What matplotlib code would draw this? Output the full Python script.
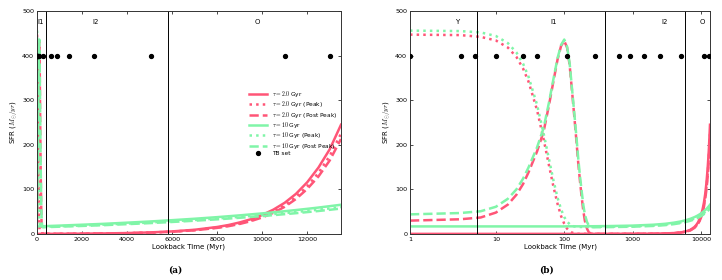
import numpy as np
import matplotlib
matplotlib.use("Agg")
import matplotlib.pyplot as plt
from matplotlib.ticker import NullLocator

plt.rcParams['font.family'] = ['DejaVu Sans']
plt.rcParams['mathtext.fontset'] = 'cm'

t = [1, 3, 6, 10, 15, 20, 25, 30, 40, 50, 60, 70, 80, 90, 100, 110, 120, 130,
     140, 150, 160, 170, 180, 190, 200, 215, 230, 260, 300, 500, 1000, 2000,
     3000, 4000, 5000, 6000, 7000, 8000, 8500, 9000, 9500, 10000, 10500, 11000,
     11500, 12000, 12500, 13000, 13500]

# tau = 2.0 Gyr
red_solid = [0.29, 0.29, 0.29, 0.29, 0.29, 0.29, 0.29, 0.29, 0.30, 0.30, 0.30, 0.30,
             0.30, 0.30, 0.30, 0.30, 0.30, 0.31, 0.31, 0.31, 0.31, 0.31, 0.31, 0.31,
             0.32, 0.32, 0.32, 0.33, 0.33, 0.37, 0.47, 0.78, 1.3, 2.1, 3.5, 5.8, 9.5,
             15.7, 20.1, 25.9, 33.2, 42.6, 54.7, 70, 90, 116, 149, 190, 245]
red_peak = [447, 446, 442, 434, 418, 397, 371, 342, 278, 212, 153, 104, 67, 40, 23,
            12, 6.4, 3.1, 1.5, 0.8, 0.4, 0.3, 0.3, 0.3, 0.3, 0.3, 0.3, 0.3, 0.3,
            0.34, 0.43, 0.72, 1.2, 1.9, 3.2, 5.3, 8.7, 14.4, 18.5, 23.8, 30.5, 39.2,
            50.3, 64, 83, 107, 137, 175, 225]
red_post = [30, 33, 37, 48, 66, 88, 112, 138, 185, 230, 290, 345, 392, 422, 433,
            418, 378, 320, 265, 212, 160, 118, 82, 52, 30, 12, 3, 0.4, 0.29, 0.32,
            0.41, 0.68, 1.1, 1.8, 3.0, 5.0, 8.3, 13.7, 17.5, 22.5, 28.9, 37.1, 47.6,
            61, 78.5, 101, 129, 165, 213]

# tau = 10 Gyr
green_solid = [17.0, 17.0, 17.0, 17.0, 17.0, 17.0, 17.0, 17.0, 17.0, 17.0, 17.0,
               17.0, 17.0, 17.0, 17.0, 17.2, 17.2, 17.2, 17.2, 17.2, 17.2, 17.2,
               17.2, 17.2, 17.2, 17.4, 17.4, 17.4, 17.5, 17.9, 18.8, 20.8, 22.9,
               25.4, 28.0, 31.0, 34.2, 37.8, 39.8, 41.8, 44.0, 46.2, 48.6, 51.1,
               53.7, 56.4, 59.3, 62.4, 65.6]
green_peak = [456, 455, 452, 444, 428, 407, 382, 353, 290, 225, 167, 118, 81, 55, 38,
              28, 22, 18.5, 17, 16.3, 16, 15.8, 15.8, 15.8, 15.8, 15.9, 15.9, 16.0,
              16.0, 16.5, 17.3, 19.1, 21.1, 23.4, 25.8, 28.5, 31.5, 34.8, 36.6, 38.5,
              40.5, 42.5, 44.7, 47.0, 49.4, 51.9, 54.6, 57.4, 60.4]
green_post = [44, 47, 51, 61, 79, 100, 124, 149, 194, 238, 296, 350, 395, 424, 436,
              420, 382, 325, 272, 221, 170, 129, 95, 65, 44, 27, 18, 15.2, 15.2, 15.6,
              16.4, 18.1, 19.9, 22.1, 24.4, 27.0, 29.8, 32.9, 34.6, 36.4, 38.3, 40.2,
              42.3, 44.5, 46.7, 49.1, 51.6, 54.3, 57.1]

# TB set
tb_t = [1, 3.1, 5, 10, 25, 40, 110, 285, 640, 900, 1440, 2520, 5050, 11000, 13000]
tb_sfr = [400] * len(tb_t)

# region boundaries and labels
bounds = [5.3, 400, 5800]
left_regions = ['I1', 'I2', 'O']
left_label_x = [180, 2600, 9800]
right_regions = ['Y', 'I1', 'I2', 'O']
right_label_x = [2.7, 71, 2900, 10500]

RED = '#ff5577'
GREEN = '#80f5a8'

series = [
    (red_solid, RED, '-', r'$\tau=2.0$ Gyr'),
    (red_peak, RED, ':', r'$\tau=2.0$ Gyr (Peak)'),
    (red_post, RED, '--', r'$\tau=2.0$ Gyr (Post Peak)'),
    (green_solid, GREEN, '-', r'$\tau=10$ Gyr'),
    (green_peak, GREEN, ':', r'$\tau=10$ Gyr (Peak)'),
    (green_post, GREEN, '--', r'$\tau=10$ Gyr (Post Peak)'),
]

fig = plt.figure(figsize=(7.22, 2.80), dpi=100)
ax1 = fig.add_axes([37 / 722, 46 / 280, 304 / 722, 223 / 280])
ax2 = fig.add_axes([410 / 722, 46 / 280, 300 / 722, 223 / 280])

for ax in (ax1, ax2):
    for y, c, ls, lab in series:
        ax.plot(t, y, color=c, linestyle=ls, lw=1.8, label=lab)
    ax.plot(tb_t, tb_sfr, 'o', color='k', ms=2.8, label='TB set', zorder=5)
    ax.set_ylim(0, 500)
    ax.set_yticks([0, 100, 200, 300, 400, 500])
    ax.tick_params(direction='in', top=True, right=True, labelsize=4.6,
                   length=2.5, width=0.5, pad=2)
    ax.set_xlabel('Lookback Time (Myr)', fontsize=5, labelpad=1.5)
    ax.set_ylabel(r'SFR ($M_{\odot}/yr$)', fontsize=5, labelpad=2)
    for s in ax.spines.values():
        s.set_linewidth(0.7)
        s.set_color('#333333')

# (a) linear
ax1.set_xlim(0, 13500)
ax1.set_xticks([0, 2000, 4000, 6000, 8000, 10000, 12000])
for b in bounds[1:]:
    ax1.axvline(b, color='k', lw=0.7)
for name, x in zip(left_regions, left_label_x):
    ax1.text(x, 475, name, ha='center', va='center', fontsize=5)
ax1.legend(loc='center right', frameon=False, fontsize=4.2, handlelength=3,
           labelspacing=0.05, borderaxespad=0.3)

# (b) log-like
ax2.set_xscale('symlog', linthresh=2, linscale=1)
ax2.set_xlim(1, 13500)
ax2.set_xticks([1, 10, 100, 1000, 10000])
ax2.set_xticklabels(['1', '10', '100', '1000', '10000'])
ax2.xaxis.set_minor_locator(NullLocator())
for b in bounds:
    ax2.axvline(b, color='k', lw=0.7)
for name, x in zip(right_regions, right_label_x):
    ax2.text(x, 475, name, ha='center', va='center', fontsize=5)

fig.text(175 / 722, 0.025, '(a)', family='DejaVu Serif', weight='bold',
         fontsize=6.5, ha='center')
fig.text(547 / 722, 0.025, '(b)', family='DejaVu Serif', weight='bold',
         fontsize=6.5, ha='center')

fig.savefig('out.png', dpi=100)
